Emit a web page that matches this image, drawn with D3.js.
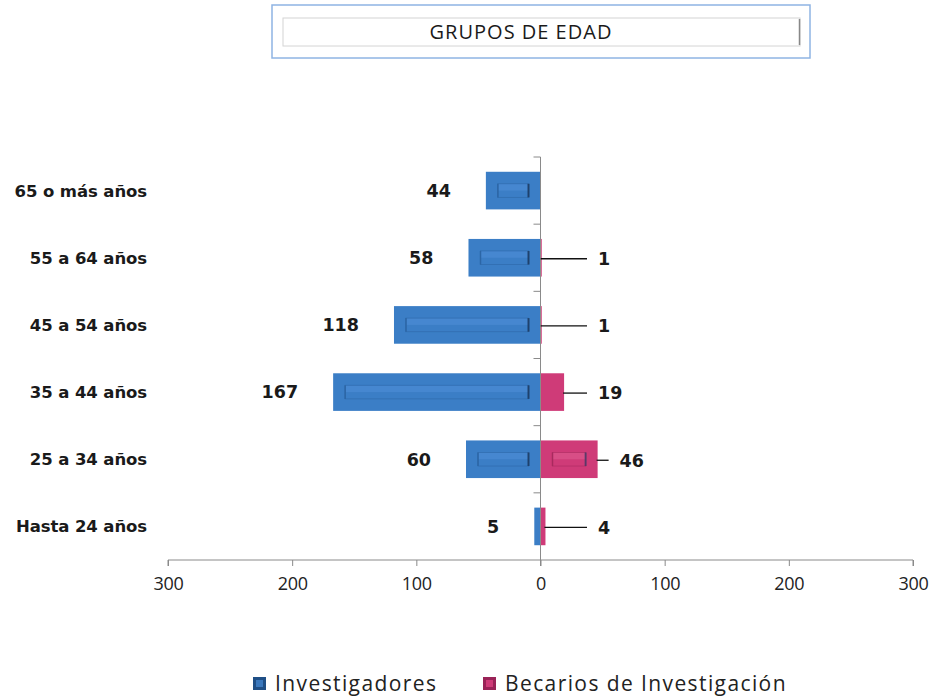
<!DOCTYPE html>
<html><head><meta charset="utf-8">
<script src="https://cdn.jsdelivr.net/npm/d3@7/dist/d3.min.js"></script>
<style>
html,body{margin:0;padding:0;background:#fff;}
svg{display:block;}
</style></head>
<body>
<svg id="chart" width="933" height="697"></svg>
<script>
const categories = ["65 o más años","55 a 64 años","45 a 54 años","35 a 44 años","25 a 34 años","Hasta 24 años"];
const investigadores = [44, 58, 118, 167, 60, 5];
const becarios = [null, 1, 1, 19, 46, 4];
const tickValues = [-300, -200, -100, 0, 100, 200, 300];
const seriesNames = ["Investigadores", "Becarios de Investigación"];
const chartTitle = "GRUPOS DE EDAD";

const svg = d3.select("#chart");
const blue = "#3b7ec6", blueDark = "#2c66a6", blueLight = "#4a8ad2";
const pink = "#cf3b78", pinkDark = "#a82a5e", pinkLight = "#d9548a";
const font = "'Open Sans', sans-serif";
const boldFont = "'DejaVu Sans', sans-serif";

const x = d3.scaleLinear().domain([-300, 300]).range([168, 913]);
const y = d3.scaleBand().domain(categories).range([157, 560]).paddingInner(0.44).paddingOuter(0.22);

// Title box
const tb = svg.append("g");
tb.append("rect").attr("x", 272).attr("y", 5).attr("width", 538).attr("height", 53)
  .attr("fill", "#fff").attr("stroke", "#8fb4e3").attr("stroke-width", 1.5);
tb.append("rect").attr("x", 283).attr("y", 18).attr("width", 517).attr("height", 28)
  .attr("fill", "#fff").attr("stroke", "#d4d4d4").attr("stroke-width", 1);
tb.append("line").attr("x1", 799.5).attr("x2", 799.5).attr("y1", 19).attr("y2", 45)
  .attr("stroke", "#888").attr("stroke-width", 1.5);
tb.append("text").attr("x", 521).attr("y", 39).attr("text-anchor", "middle")
  .attr("font-family", font).attr("font-size", 20).attr("letter-spacing", 1)
  .attr("fill", "#1a1a1a").text(chartTitle);

// Bars
function drawBar(g, x0, x1, yc, h, fill, dark, light, left) {
  const w = x1 - x0;
  g.append("rect").attr("x", x0).attr("y", yc - h/2).attr("width", w).attr("height", h).attr("fill", fill);
  if (w > 28) {
    const ix0 = x0 + 12, ix1 = x1 - 12, iy0 = yc - h/2 + 12, iy1 = yc + h/2 - 12;
    g.append("rect").attr("x", ix0).attr("y", iy0).attr("width", ix1 - ix0).attr("height", (iy1 - iy0)/2)
      .attr("fill", light).attr("opacity", 0.8);
    g.append("rect").attr("x", ix0).attr("y", iy0).attr("width", ix1 - ix0).attr("height", iy1 - iy0)
      .attr("fill", "none").attr("stroke", dark).attr("stroke-width", 0.8).attr("opacity", 0.7);
    g.append("line").attr("x1", ix1).attr("x2", ix1).attr("y1", iy0).attr("y2", iy1)
      .attr("stroke", "#1d3d66").attr("stroke-width", 2).attr("opacity", left ? 0.9 : 0.6);
    g.append("line").attr("x1", ix0).attr("x2", ix0).attr("y1", iy0).attr("y2", iy1)
      .attr("stroke", dark).attr("stroke-width", 1.5);
  }
}

const bars = svg.append("g");
const bh = y.bandwidth();
categories.forEach((c, i) => {
  const yc = y(c) + bh/2;
  const v = investigadores[i];
  drawBar(bars, x(-v), x(0), yc, bh, blue, blueDark, blueLight, true);
  const b = becarios[i];
  if (b != null) drawBar(bars, x(0), x(b), yc, bh, pink, pinkDark, pinkLight, false);
});

// Axes
const axisColor = "#8a8a8a";
const xAxis = svg.append("g").attr("transform", "translate(0,560)")
  .call(d3.axisBottom(x).tickValues(tickValues).tickSize(6).tickFormat(d => Math.abs(d)));
xAxis.select(".domain").attr("stroke", axisColor).attr("d", `M${x(-300)},6V0H${x(300)}V6`);
xAxis.selectAll(".tick line").attr("stroke", axisColor);
xAxis.selectAll(".tick text").attr("font-family", font).attr("font-size", 18).attr("fill", "#222")
  .attr("dy", "1.15em").attr("letter-spacing", -0.3);

const yAxis = svg.append("g").attr("transform", `translate(${x(0)},0)`);
yAxis.append("line").attr("x1", 0).attr("x2", 0).attr("y1", 157).attr("y2", 566).attr("stroke", axisColor);
const bounds = categories.map(c => y(c) - y.step()*y.paddingInner()/2);
bounds.forEach(b => {
  yAxis.append("line").attr("x1", -7).attr("x2", 0).attr("y1", b).attr("y2", b).attr("stroke", axisColor);
});

// Category labels
svg.append("g").selectAll("text").data(categories).join("text")
  .attr("x", 147).attr("y", d => y(d) + bh/2).attr("dy", "0.36em").attr("text-anchor", "end")
  .attr("font-family", boldFont).attr("font-weight", "bold").attr("font-size", 16.5).attr("fill", "#1a1a1a")
  .attr("letter-spacing", -0.1)
  .text(d => d);

// Value labels
const lab = svg.append("g").attr("font-family", boldFont).attr("font-weight", "bold").attr("font-size", 17.5).attr("fill", "#1a1a1a");
categories.forEach((c, i) => {
  const yc = y(c) + bh/2;
  lab.append("text").attr("x", x(-investigadores[i]) - 35).attr("y", yc).attr("dy", "0.36em")
    .attr("text-anchor", "end").text(investigadores[i]);
  const b = becarios[i];
  if (b != null) {
    const end = x(b);
    const lx = Math.max(end + 22, 598);
    svg.append("line").attr("x1", end - 1).attr("x2", lx - 11).attr("y1", yc + 1).attr("y2", yc + 1)
      .attr("stroke", "#111").attr("stroke-width", 1.3);
    lab.append("text").attr("x", lx).attr("y", yc + 1).attr("dy", "0.36em").text(b);
  }
});

// Legend
const leg = svg.append("g").attr("font-family", font).attr("font-size", 21).attr("fill", "#222").attr("letter-spacing", 1.4);
const legItems = [{name: seriesNames[0], x: 253, c: "#1f4f86", ci: "#3a78bd"},
                  {name: seriesNames[1], x: 483, c: "#9a2357", ci: "#cf3b78"}];
legItems.forEach(d => {
  leg.append("rect").attr("x", d.x).attr("y", 677).attr("width", 13).attr("height", 13).attr("fill", d.c);
  leg.append("rect").attr("x", d.x + 3).attr("y", 680).attr("width", 7).attr("height", 7).attr("fill", d.ci);
  leg.append("text").attr("x", d.x + 22).attr("y", 684).attr("dy", "0.35em").text(d.name);
});
</script>
</body></html>
